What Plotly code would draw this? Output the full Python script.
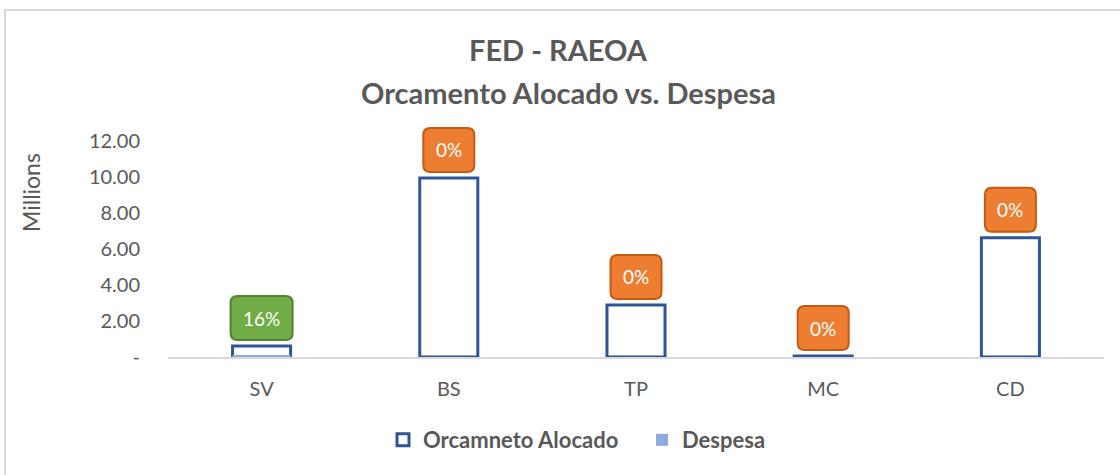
import plotly.graph_objects as go

categories = ["SV", "BS", "TP", "MC", "CD"]
orcamento = [0.61, 9.95, 2.89, 0.05, 6.62]
despesa = [0.10, 0.0, 0.0, 0.0, 0.0]
pct_labels = ["16%", "0%", "0%", "0%", "0%"]
y_ticks = [0, 2, 4, 6, 8, 10, 12]
y_tick_text = ["-", "2.00", "4.00", "6.00", "8.00", "10.00", "12.00"]

FONT = "Lato, 'Open Sans', sans-serif"
GRAY = "#595959"
Y_MAX = 12
W, H = 1120, 475
L, R, T, B = 168, 16, 141, 118
PW, PH = W - L - R, H - T - B

def px_x(x):  # pixel -> paper fraction
    return (x - L) / PW

def px_y(y):
    return (H - B - y) / PH

fig = go.Figure()
fig.add_trace(go.Bar(
    x=categories, y=orcamento, name="<b>Orcamneto Alocado</b>",
    marker=dict(color="white", line=dict(color="#2f5597", width=3)),
    width=0.31,
))
fig.add_trace(go.Bar(
    x=categories, y=despesa, name="<b>Despesa</b>",
    marker=dict(color="#8faadc", line=dict(width=0)),
    width=0.31,
))

def rounded_path(w, y0, y1, r):
    x0, x1 = -w / 2, w / 2
    return (f"M {x0+r},{y0} L {x1-r},{y0} Q {x1},{y0} {x1},{y0+r} "
            f"L {x1},{y1-r} Q {x1},{y1} {x1-r},{y1} L {x0+r},{y1} "
            f"Q {x0},{y1} {x0},{y1-r} L {x0},{y0+r} Q {x0},{y0} {x0+r},{y0} Z")

n = len(categories)
for i, (cat, o, d, lab) in enumerate(zip(categories, orcamento, despesa, pct_labels)):
    top = max(o, d)
    pos = float(lab.rstrip("%")) > 0
    fill = "#70ad47" if pos else "#ed7d31"
    edge = "#548235" if pos else "#c55a11"
    w = 29 + 11 * len(lab)
    fig.add_shape(type="path", xref="paper", yref="paper", xsizemode="pixel", ysizemode="pixel",
                  xanchor=(i + 0.5) / n, yanchor=top / Y_MAX, path=rounded_path(w, 6, 50, 7),
                  fillcolor=fill, line=dict(color=edge, width=2), layer="above")
    fig.add_annotation(x=cat, y=top, text=lab, showarrow=False, yshift=28, yanchor="middle",
                       font=dict(family=FONT, size=19, color="white"))

# outer chart border
fig.add_shape(type="rect", xref="paper", yref="paper",
              x0=px_x(5), x1=px_x(1130), y0=px_y(480), y1=px_y(10),
              line=dict(color="#d9d9d9", width=2), fillcolor="rgba(0,0,0,0)", layer="below")

# title lines
fig.add_annotation(xref="paper", yref="paper", x=px_x(558), y=px_y(49), text="<b>FED - RAEOA</b>",
                   showarrow=False, xanchor="center", yanchor="middle",
                   font=dict(family=FONT, size=29, color=GRAY))
fig.add_annotation(xref="paper", yref="paper", x=px_x(568), y=px_y(92),
                   text="<b>Orcamento Alocado vs. Despesa</b>",
                   showarrow=False, xanchor="center", yanchor="middle",
                   font=dict(family=FONT, size=29, color=GRAY))
# y axis title
fig.add_annotation(xref="paper", yref="paper", x=px_x(31), y=px_y(193), text="Millions",
                   showarrow=False, xanchor="center", yanchor="middle", textangle=-90,
                   font=dict(family=FONT, size=23, color=GRAY))

fig.update_layout(
    width=W, height=H,
    margin=dict(l=L, r=R, t=T, b=B, autoexpand=False),
    paper_bgcolor="white", plot_bgcolor="white",
    barmode="overlay",
    font=dict(family=FONT, color=GRAY),
    showlegend=True,
    legend=dict(orientation="h", x=px_x(383), xref="paper", xanchor="left",
                y=px_y(440), yanchor="middle", entrywidth=214, entrywidthmode="pixels",
                font=dict(family=FONT, size=22, color=GRAY)),
    xaxis=dict(showline=True, linecolor="#d9d9d9", linewidth=2, showgrid=False,
               ticks="outside", ticklen=13, tickcolor="rgba(0,0,0,0)",
               tickfont=dict(family=FONT, size=20, color=GRAY), fixedrange=True),
    yaxis=dict(range=[0, Y_MAX], tickvals=y_ticks, ticktext=y_tick_text, showgrid=False,
               showline=False, zeroline=False, ticks="outside", ticklen=23,
               tickcolor="rgba(0,0,0,0)", fixedrange=True,
               tickfont=dict(family=FONT, size=20, color=GRAY)),
)

fig.write_html("out.html", config={"displayModeBar": False},
               post_script="document.body.style.margin='0';")
